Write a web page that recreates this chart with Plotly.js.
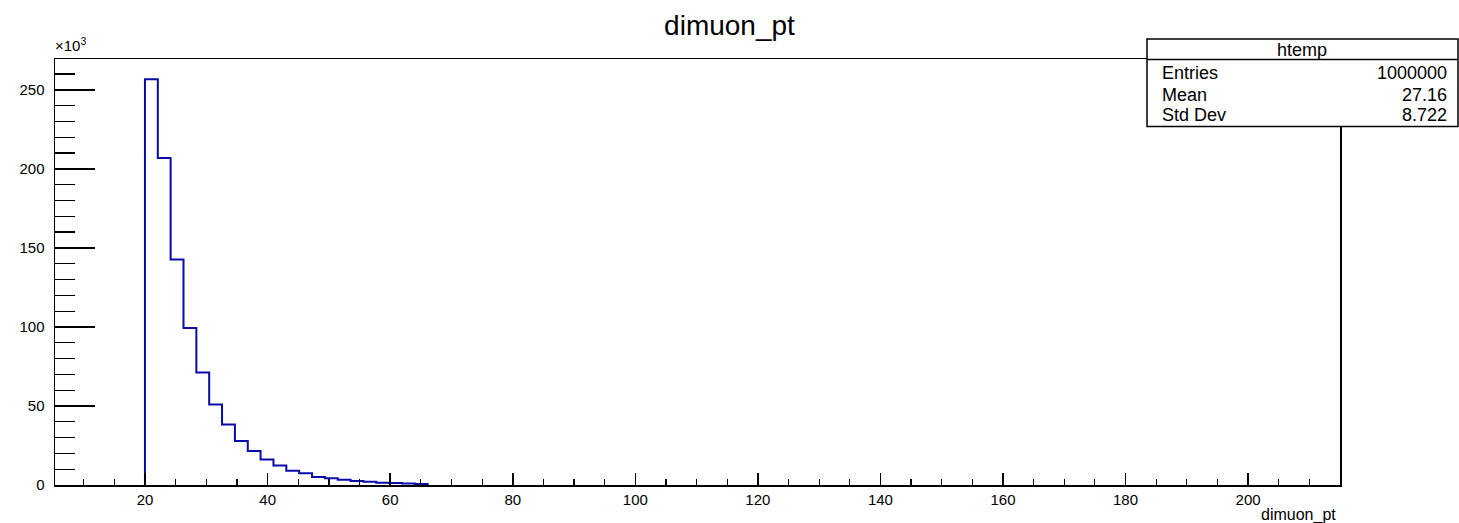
<!DOCTYPE html>
<html>
<head>
<meta charset="utf-8">
<script src="https://cdn.plot.ly/plotly-3.0.1.min.js"></script>
<style>html,body{margin:0;padding:0;background:#fff;}#chart{width:1459px;height:523px;}</style>
</head>
<body>
<div id="chart"></div>
<script>
// Histogram "htemp" of dimuon_pt (100 bins over the axis range; only non-empty visible bins listed)
const binLowEdges = [19.98, 22.08, 24.17, 26.27, 28.37, 30.46, 32.56, 34.66, 36.76, 38.85, 40.95,
                     43.05, 45.14, 47.24, 49.34, 51.44, 53.53, 55.63, 57.73, 59.82, 61.92, 64.02];
const lastUpEdge = 66.12;
const binCounts = [256700, 206900, 142700, 99300, 71100, 50900, 38300, 27800, 21500, 16200, 12400,
                   9000, 7400, 5000, 4300, 3400, 2600, 2000, 1500, 1200, 900, 600];
const yTickVals = [0, 50000, 100000, 150000, 200000, 250000];
const yTickText = ["0", "50", "100", "150", "200", "250"];
const statsName = "htemp";
const statsLabels = ["Entries", "Mean", "Std Dev"];
const statsValues = ["1000000", "27.16", "8.722"];
const chartTitle = "dimuon_pt";
const xTitle = "dimuon_pt";

// build step outline
const xs = [binLowEdges[0]], ys = [0];
for (let i = 0; i < binCounts.length; i++) { xs.push(binLowEdges[i]); ys.push(binCounts[i]); }
xs.push(lastUpEdge); ys.push(binCounts[binCounts.length - 1]);
xs.push(lastUpEdge); ys.push(0);

const FONT = "Liberation Sans, Arial, sans-serif";
const W = 1459, H = 523, L = 55, R = 1340, T = 58.5, B = 485;
const px = v => (v - L) / (R - L);
const py = v => (B - v) / (B - T);

const trace = {
  x: xs, y: ys, type: "scatter", mode: "lines",
  line: {shape: "hv", color: "#0a0aa8", width: 2},
  hoverinfo: "skip", showlegend: false
};

const shapes = [
  {type: "rect", xref: "paper", yref: "paper", x0: px(1147), x1: px(1458), y0: py(126), y1: py(38.5),
   line: {color: "#000", width: 1.5}, fillcolor: "#fff"},
  {type: "line", xref: "paper", yref: "paper", x0: px(1147), x1: px(1458), y0: py(59), y1: py(59),
   line: {color: "#000", width: 1.5}}
];

const annotations = [
  {text: "×10<sup>3</sup>", xref: "paper", yref: "paper", x: px(53), y: py(55), xanchor: "left", yanchor: "bottom",
   showarrow: false, font: {family: FONT, size: 15, color: "#000"}},
  {text: xTitle, xref: "paper", yref: "paper", x: px(1338), y: py(515), xanchor: "right", yanchor: "middle",
   showarrow: false, font: {family: FONT, size: 16, color: "#000"}},
  {text: statsName, xref: "paper", yref: "paper", x: px(1302), y: py(49), xanchor: "center", yanchor: "middle",
   showarrow: false, font: {family: FONT, size: 18, color: "#000"}}
];
const rowY = [73, 95, 115];
statsLabels.forEach((lab, i) => {
  annotations.push({text: lab, xref: "paper", yref: "paper", x: px(1160), y: py(rowY[i]), xanchor: "left", yanchor: "middle",
    showarrow: false, font: {family: FONT, size: 18, color: "#000"}});
  annotations.push({text: statsValues[i], xref: "paper", yref: "paper", x: px(1449), y: py(rowY[i]), xanchor: "right", yanchor: "middle",
    showarrow: false, font: {family: FONT, size: 18, color: "#000"}});
});

const layout = {
  width: W, height: H,
  margin: {l: L, r: W - R, t: T, b: H - B, pad: 0},
  paper_bgcolor: "#fff", plot_bgcolor: "#fff",
  title: {text: chartTitle, x: 0.5, xanchor: "center", y: 1 - 25 / H, yanchor: "middle",
          font: {family: FONT, size: 28, color: "#000"}},
  xaxis: {range: [5.3, 215.0], showgrid: false, zeroline: false,
          showline: true, linecolor: "#000", linewidth: 1.5, mirror: true,
          tickmode: "linear", tick0: 0, dtick: 20, ticks: "inside", ticklen: 12, tickwidth: 1.5, tickcolor: "#000",
          minor: {tickmode: "linear", tick0: 0, dtick: 5, ticks: "inside", ticklen: 6, tickwidth: 1.2, tickcolor: "#000"},
          tickfont: {family: FONT, size: 15, color: "#000"}},
  yaxis: {range: [0, 269500], showgrid: false, zeroline: false,
          showline: true, linecolor: "#000", linewidth: 1.5, mirror: true,
          tickmode: "array", tickvals: yTickVals, ticktext: yTickText,
          ticks: "inside", ticklen: 40, tickwidth: 1.5, tickcolor: "#000", ticklabelstandoff: 6,
          minor: {tickmode: "linear", tick0: 0, dtick: 10000, ticks: "inside", ticklen: 20, tickwidth: 1.2, tickcolor: "#000"},
          tickfont: {family: FONT, size: 15, color: "#000"}},
  shapes: shapes,
  annotations: annotations
};

Plotly.newPlot("chart", [trace], layout, {displayModeBar: false, staticPlot: true});
</script>
</body>
</html>
